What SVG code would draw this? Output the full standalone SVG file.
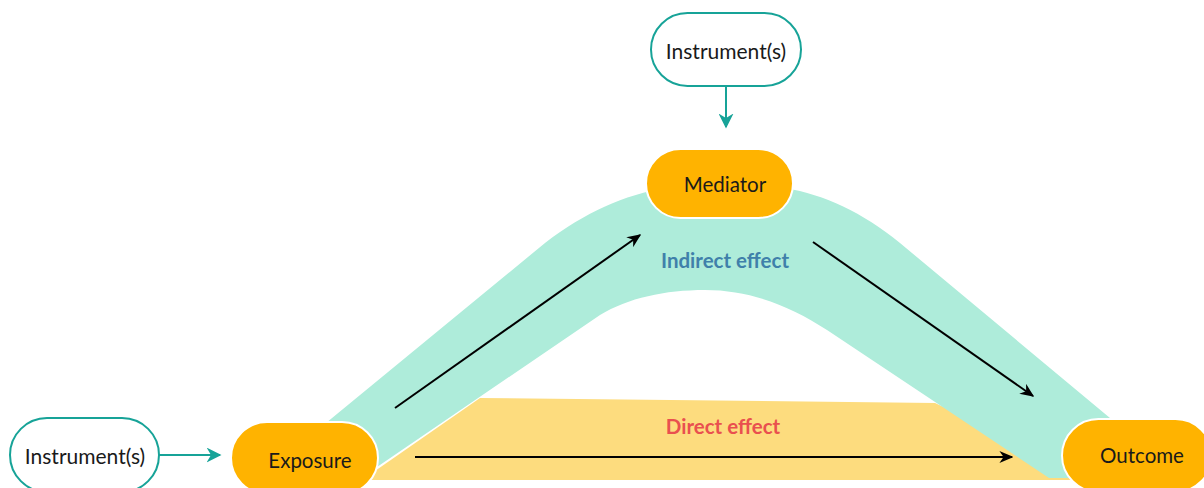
<svg xmlns="http://www.w3.org/2000/svg" width="1204" height="488" viewBox="0 0 1204 488">
<style>
.lbl{font-family:Lato,"Open Sans","Liberation Sans",sans-serif;font-size:20.5px;fill:#1a1a1a;text-anchor:middle;dominant-baseline:central}
.ilbl{font-size:21px}
.eff{font-family:Lato,"Open Sans","Liberation Sans",sans-serif;font-size:20.5px;font-weight:bold;text-anchor:middle;dominant-baseline:central}
.inst{fill:#ffffff;stroke:#17a398;stroke-width:2}
.var{fill:#ffb300;stroke:#ffffff;stroke-width:2}
.tl{stroke:#17a398;stroke-width:2;fill:none}
.bl{stroke:#000000;stroke-width:2;fill:none}
</style>
<defs>
<marker id="ah" viewBox="0 0 10 10" refX="9" refY="5" markerWidth="14" markerHeight="12" markerUnits="userSpaceOnUse" orient="auto" preserveAspectRatio="none">
<path d="M0,0 L10,5 L0,10 L3,5 Z" fill="#000"/>
</marker>
<marker id="ahT" viewBox="0 0 10 10" refX="9" refY="5" markerWidth="15" markerHeight="15" markerUnits="userSpaceOnUse" orient="auto" preserveAspectRatio="none">
<path d="M0,0 L10,5 L0,10 L3,5 Z" fill="#17a398"/>
</marker>
</defs>
<g id="bands">
<polygon points="362,480 480,398 935,403 1100,480" fill="#fddc7e"/>
<path d="M298,446 L545,243 C585,212 625,195 665,188 L785,188 C825,195 862,212 900,243 L1128,433 L1128,478 L1049,478 L827,330 C790,306 750,290 705,290 C665,290 628,298 600,315 L377,467 L360,480 L290,480 Z" fill="#aeecda"/>
</g>
<g id="connectors">
<line class="tl" x1="159" y1="455" x2="220" y2="455" marker-end="url(#ahT)"/>
<line class="tl" x1="726" y1="86" x2="726" y2="127" marker-end="url(#ahT)"/>
<line class="bl" x1="395" y1="408" x2="640" y2="235" marker-end="url(#ah)"/>
<line class="bl" x1="813" y1="242" x2="1033" y2="396" marker-end="url(#ah)"/>
<line class="bl" x1="415" y1="457" x2="1012" y2="457" marker-end="url(#ah)"/>
</g>
<g id="labels">
<text class="eff" x="725" y="260" fill="#3f80aa">Indirect effect</text>
<text class="eff" x="723" y="426" fill="#e9504f">Direct effect</text>
</g>
<g id="instrument-left">
<rect class="inst" x="10" y="418" width="149" height="74" rx="37"/>
<text class="lbl ilbl" x="85" y="455">Instrument(s)</text>
</g>
<g id="instrument-top">
<rect class="inst" x="651" y="13" width="150" height="73" rx="36.5"/>
<text class="lbl ilbl" x="726" y="50">Instrument(s)</text>
</g>
<g id="exposure">
<rect class="var" x="231" y="422" width="147" height="72" rx="36"/>
<text class="lbl" x="310" y="460">Exposure</text>
</g>
<g id="mediator">
<rect class="var" x="646" y="149" width="147" height="69" rx="34.5"/>
<text class="lbl" x="725" y="184">Mediator</text>
</g>
<g id="outcome">
<rect class="var" x="1062" y="419" width="150" height="73" rx="36.5"/>
<text class="lbl" x="1142" y="455">Outcome</text>
</g>
</svg>
